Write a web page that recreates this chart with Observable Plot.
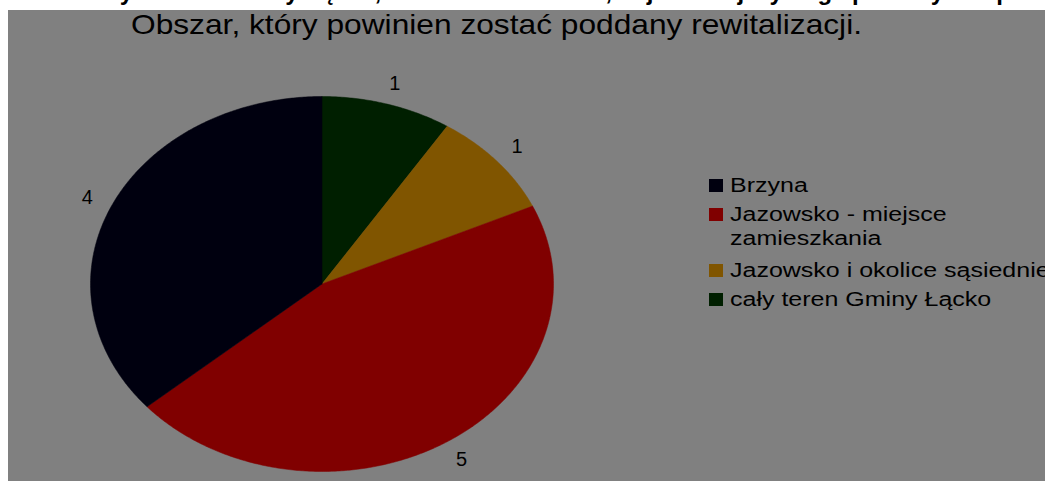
<!DOCTYPE html>
<html>
<head>
<meta charset="utf-8">
<script src="https://cdn.jsdelivr.net/npm/d3@7"></script>
<script src="https://cdn.jsdelivr.net/npm/@observablehq/plot@0.6"></script>
<style>
  html, body { margin: 0; padding: 0; background: #ffffff; width: 1045px; height: 481px; overflow: hidden; }
  #bg { position: absolute; left: 8px; top: 10px; width: 1037px; height: 471px; background: #808080; }
  #chart { position: absolute; left: 0; top: 0; }
  #over { position: absolute; left: 0; top: 0; }
</style>
</head>
<body>
<div id="bg"></div>
<div id="chart"></div>
<svg id="over" width="1045" height="481"></svg>
<script>
// ---- data (clockwise from 12 o'clock, as drawn) ----
const categories = ["cały teren Gminy Łącko", "Jazowsko i okolice sąsiednie", "Jazowsko - miejsce zamieszkania", "Brzyna"];
const values = [1, 1, 5, 4];
const colors = ["#001f00", "#805500", "#800000", "#00000f"];
// legend order and wrapped lines
const legendOrder = ["Brzyna", "Jazowsko - miejsce zamieszkania", "Jazowsko i okolice sąsiednie", "cały teren Gminy Łącko"];
const legendLines = [["Brzyna"], ["Jazowsko - miejsce", "zamieszkania"], ["Jazowsko i okolice sąsiednie"], ["cały teren Gminy Łącko"]];
const titleTop = "Pytanie 3. Który obszar Gminy Łącko, Pani/Pana zdaniem, najbardziej wymaga pomocy i wsparcia ?";
const title = "Obszar, który powinien zostać poddany rewitalizacji.";

const data = categories.map((c, i) => ({name: c, value: values[i]}));
const arcs = d3.pie().sort(null).value(d => d.value)(data);

// polygon points for each slice in unit-circle coordinates
const pts = [];
for (const a of arcs) {
  const n = Math.max(2, Math.ceil((a.endAngle - a.startAngle) / (Math.PI / 360)));
  pts.push({name: a.data.name, x: 0, y: 0});
  for (let k = 0; k <= n; k++) {
    const t = a.startAngle + (a.endAngle - a.startAngle) * k / n;
    pts.push({name: a.data.name, x: Math.sin(t), y: Math.cos(t)});
  }
  pts.push({name: a.data.name, x: 0, y: 0});
}
const labR = 1.115;
const labels = arcs.map(a => {
  const m = (a.startAngle + a.endAngle) / 2;
  return {name: a.data.name, value: a.data.value, x: labR * Math.sin(m), y: labR * Math.cos(m)};
});

const plot = Plot.plot({
  width: 1045,
  height: 481,
  margin: 0,
  style: {background: "transparent", overflow: "visible"},
  x: {domain: [-1, 1], range: [90, 553], axis: null},
  y: {domain: [-1, 1], range: [471, 96], axis: null},
  color: {type: "ordinal", domain: categories, range: colors},
  marks: [
    Plot.line(pts, {x: "x", y: "y", z: "name", fill: "name", stroke: "name", strokeWidth: 0.5, curve: "linear"}),
    Plot.text(labels, {x: "x", y: "y", text: d => String(d.value), fill: "#000000", fontSize: 20,
      fontFamily: "Liberation Sans, Arial, sans-serif", textAnchor: "middle", lineAnchor: "middle"})
  ]
});
document.getElementById("chart").appendChild(plot);

// ---- title and legend ----
const svg = d3.select("#over");
svg.append("text").attr("x", 520).attr("y", 0).attr("text-anchor", "middle")
  .attr("font-family", "Liberation Sans, Arial, sans-serif").attr("font-weight", "bold")
  .attr("font-size", 24).attr("fill", "#000").text(titleTop);
svg.append("text").attr("x", 131).attr("y", 34)
  .attr("font-family", "Liberation Sans, Arial, sans-serif")
  .attr("font-size", 28).attr("fill", "#000")
  .attr("textLength", 731).attr("lengthAdjust", "spacingAndGlyphs").text(title);

const legY = [192, 221, 277, 306];
legendOrder.forEach((name, i) => {
  const ci = categories.indexOf(name);
  svg.append("rect").attr("x", 709).attr("y", legY[i] - 13).attr("width", 14).attr("height", 13).attr("fill", colors[ci]);
  legendLines[i].forEach((ln, j) => {
    const t = svg.append("text").attr("x", 730).attr("y", legY[i] + j * 24)
      .attr("font-family", "Liberation Sans, Arial, sans-serif").attr("font-size", 20)
      .attr("fill", "#000").text(ln);
    const w = t.node().getComputedTextLength();
    t.attr("textLength", w * 1.25).attr("lengthAdjust", "spacingAndGlyphs");
  });
});
</script>
</body>
</html>
